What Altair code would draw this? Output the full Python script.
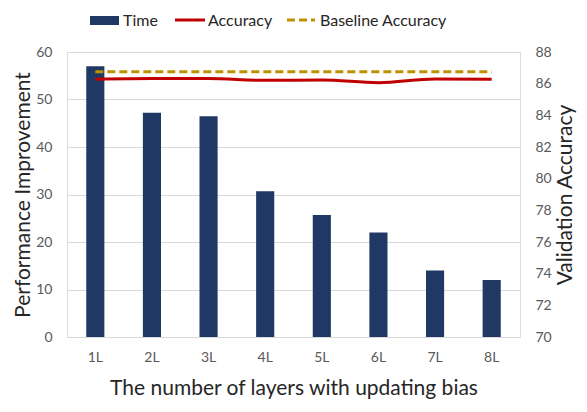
import altair as alt
import pandas as pd

categories = ["1L", "2L", "3L", "4L", "5L", "6L", "7L", "8L"]
time_values = [57.0, 47.2, 46.5, 30.7, 25.7, 22.0, 14.0, 12.0]
accuracy_values = [86.28, 86.32, 86.32, 86.21, 86.23, 86.06, 86.30, 86.28]
baseline_values = [86.75] * 8
left_ticks = [0, 10, 20, 30, 40, 50, 60]
right_ticks = [70, 72, 74, 76, 78, 80, 82, 84, 86, 88]

FONT = "Lato"
BAR = "#203864"
RED = "#C00000"
GOLD = "#BF9000"

df = pd.DataFrame({
    "layer": categories,
    "time": time_values,
    "acc": accuracy_values,
    "base": baseline_values,
})

x = alt.X(
    "layer:N",
    sort=categories,
    scale=alt.Scale(paddingInner=0.68, paddingOuter=0.34),
    axis=alt.Axis(
        title="The number of layers with updating bias",
        labelAngle=0, ticks=False, domain=False, grid=False,
        labelPadding=13, titlePadding=13,
        labelFontSize=14, titleFontSize=21,
        labelColor="#595959", titleColor="#262626",
    ),
)

base = alt.Chart(df)

bars = base.mark_bar(color=BAR).encode(
    x=x,
    y=alt.Y(
        "time:Q",
        scale=alt.Scale(domain=[0, 60], nice=False),
        axis=alt.Axis(
            title="Performance Improvement", values=left_ticks,
            ticks=False, domain=False, grid=True, gridColor="#d9d9d9",
            labelPadding=15, titlePadding=2,
            labelFontSize=14, titleFontSize=21,
            labelColor="#595959", titleColor="#262626",
        ),
    ),
)

right_axis = alt.Axis(
    title="Validation Accuracy", orient="right", values=right_ticks,
    ticks=False, domain=False, grid=False,
    labelPadding=15, titlePadding=3, titleAngle=-90, titleBaseline="top",
    labelFontSize=14, titleFontSize=21,
    labelColor="#595959", titleColor="#262626",
)

acc = base.mark_line(color=RED, strokeWidth=3, interpolate="monotone").encode(
    x=x,
    y=alt.Y("acc:Q", scale=alt.Scale(domain=[70, 88], nice=False), axis=right_axis),
)

baseline = base.mark_line(color=GOLD, strokeWidth=3, strokeDash=[8, 4]).encode(
    x=x,
    y=alt.Y("base:Q", scale=alt.Scale(domain=[70, 88], nice=False), axis=right_axis),
)

lines = alt.layer(acc, baseline)

one = pd.DataFrame({"t": ["Time"]})
leg_time_sym = alt.Chart(one).mark_rect(color=BAR).encode(
    x=alt.value(23), x2=alt.value(52), y=alt.value(-36), y2=alt.value(-27))
leg_time_txt = alt.Chart(pd.DataFrame({"t": ["Time"]})).mark_text(
    align="left", baseline="middle", font=FONT, fontSize=16, color="#262626").encode(
    text="t:N", x=alt.value(56), y=alt.value(-31))
leg_acc_sym = alt.Chart(one).mark_rule(color=RED, strokeWidth=3).encode(
    x=alt.value(108), x2=alt.value(138), y=alt.value(-32))
leg_acc_txt = alt.Chart(pd.DataFrame({"t": ["Accuracy"]})).mark_text(
    align="left", baseline="middle", font=FONT, fontSize=16, color="#262626").encode(
    text="t:N", x=alt.value(141), y=alt.value(-31))
leg_base_sym = alt.Chart(one).mark_rule(color=GOLD, strokeWidth=3, strokeDash=[8, 4]).encode(
    x=alt.value(220), x2=alt.value(248), y=alt.value(-32))
leg_base_txt = alt.Chart(pd.DataFrame({"t": ["Baseline Accuracy"]})).mark_text(
    align="left", baseline="middle", font=FONT, fontSize=16, color="#262626").encode(
    text="t:N", x=alt.value(253), y=alt.value(-31))

legend = alt.layer(leg_time_sym, leg_time_txt, leg_acc_sym, leg_acc_txt,
                   leg_base_sym, leg_base_txt)

chart = alt.layer(bars, lines, legend).resolve_scale(y="independent").properties(
    width=453, height=285,
    autosize=alt.AutoSizeParams(type="none"),
    padding={"left": 59, "top": 44, "right": 59, "bottom": 67},
).configure_view(stroke=None).configure(font=FONT).configure_axis(
    labelFont=FONT, titleFont=FONT, titleFontWeight="normal"
)

chart.save("out.html", embed_options={"renderer": "svg", "actions": False})
